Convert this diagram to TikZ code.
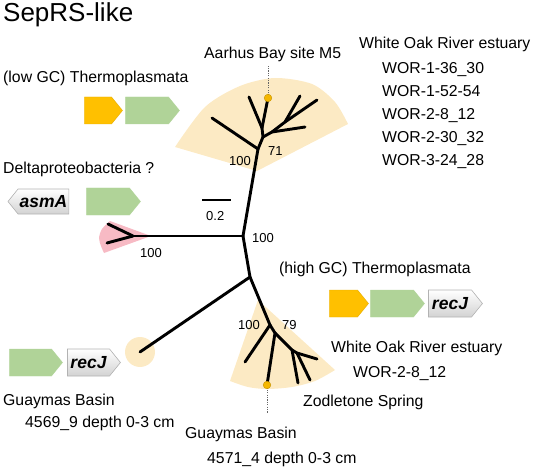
\documentclass[tikz,border=0pt]{standalone}
\usepackage{fontspec}
\setmainfont{Liberation Sans}
\usetikzlibrary{shapes.symbols}

\definecolor{fanbeige}{RGB}{252,234,196}
\definecolor{fanpink}{RGB}{247,186,196}
\definecolor{geneorange}{RGB}{255,192,0}
\definecolor{genegreen}{RGB}{176,211,152}
\definecolor{dotorange}{RGB}{245,183,0}

\begin{document}
\begin{tikzpicture}[x=1pt,y=-1pt,
  branch/.style={line width=2.9pt, line cap=round},
  lbl/.style={anchor=base west, inner sep=0pt, font=\fontsize{15.8}{18}\selectfont},
  boot/.style={anchor=base west, inner sep=0pt, font=\fontsize{13}{15}\selectfont},
  gene/.style={signal, signal to=east, signal from=nowhere, signal pointer angle=102,
    minimum height=27, inner sep=0pt, font=\fontsize{17.5}{20}\selectfont\bfseries\itshape},
  orangegene/.style={gene, fill=geneorange, draw=geneorange!90!black, line width=0.4pt},
  greengene/.style={gene, fill=genegreen, draw=genegreen, line width=0.4pt},
  greygene/.style={gene, top color=white, bottom color=gray!35, draw=gray!60, line width=0.6pt},
  tipdot/.style={fill=dotorange, draw=dotorange!80!black, line width=0.4pt},
  guide/.style={gray!80!black, line width=0.6pt, dash pattern=on 1.2pt off 1.2pt}]
\useasboundingbox (0,0) rectangle (533,468);

% clade shading
\fill[fanbeige] (257,171) -- plot[smooth] coordinates {(175,147) (205,107) (240,86) (275,78) (312,84) (335,102) (348,124)} -- cycle;
\fill[fanbeige] (258,300) -- plot[smooth] coordinates {(230,381) (248,387) (267,389) (292,387) (315,381) (335,370)} -- cycle;
\fill[fanpink] (151,236) -- plot[smooth] coordinates {(110,221) (102,229) (99,238) (101,246) (104,253)} -- cycle;
\fill[fanbeige] (140,352) circle (15);

% tree points
\coordinate (R) at (243,236);
\coordinate (B) at (258,149);
\coordinate (Bl) at (212,118);
\coordinate (C) at (263,137);
\coordinate (Cu) at (262,128);
\coordinate (Cl) at (249,97);
\coordinate (M5) at (268,98);
\coordinate (D) at (272,132);
\coordinate (Dl) at (305,127);
\coordinate (E) at (285,122);
\coordinate (El) at (300,96);
\coordinate (Er) at (317,100);
\coordinate (P) at (133,236);
\coordinate (Pu) at (108,224);
\coordinate (Pd) at (107,243);
\coordinate (F) at (250,277);
\coordinate (GB) at (140,352);
\coordinate (G) at (270,325);
\coordinate (Gl) at (245,362);
\coordinate (H) at (275,333);
\coordinate (GB2) at (267,385);
\coordinate (I) at (292,350);
\coordinate (I2) at (297,353);
\coordinate (Il) at (298,383);
\coordinate (Im) at (310,380);
\coordinate (Ir) at (317,359);
\coordinate (M5top) at (268,66);
\coordinate (GB2bot) at (267,413);

\draw[guide] (M5) -- (M5top);
\draw[guide] (GB2) -- (GB2bot);

\draw[branch] (R) -- (B);
\draw[branch] (B) -- (Bl);
\draw[branch] (B) -- (C) -- (Cu);
\draw[branch] (Cu) -- (Cl);
\draw[branch] (Cu) -- (M5);
\draw[branch] (C) -- (D) -- (Dl);
\draw[branch] (D) -- (E) -- (El);
\draw[branch] (E) -- (Er);
\draw[branch] (R) -- (P);
\draw[branch] (P) -- (Pu);
\draw[branch] (P) -- (Pd);
\draw[branch] (R) -- (F) -- (GB);
\draw[branch] (F) -- (G) -- (Gl);
\draw[branch] (G) -- (H) -- (GB2);
\draw[branch] (H) -- (I) -- (Il);
\draw[branch] (I) -- (I2) -- (Ir);
\draw[branch] (I2) -- (Im);

\filldraw[tipdot] (M5) circle (3.8);
\filldraw[tipdot] (GB2) circle (3.8);

% scale bar
\coordinate (S1) at (202,200);
\coordinate (S2) at (231,200);
\draw[line width=2.4pt] (S1) -- (S2);
\node[boot] (scale) at (206,220) {0.2};

% bootstrap values
\node[boot] (bR) at (252,242) {100};
\node[boot] (bB) at (229,165) {100};
\node[boot] (bC) at (268,156) {71};
\node[boot] (bP) at (140,257) {100};
\node[boot] (bG) at (238,329) {100};
\node[boot] (bH) at (282,329) {79};

% labels
\node[anchor=base west, inner sep=0pt, font=\fontsize{26}{30}\selectfont] (title) at (3,22) {SepRS-like};
\node[lbl] (aarhus) at (204,59) {Aarhus Bay site M5};
\node[lbl] (wor) at (359,49) {White Oak River estuary};
\node[lbl] (wor1) at (382,74) {WOR-1-36\_30};
\node[lbl] (wor2) at (382,97) {WOR-1-52-54};
\node[lbl] (wor3) at (382,120) {WOR-2-8\_12};
\node[lbl] (wor4) at (382,143) {WOR-2-30\_32};
\node[lbl] (wor5) at (382,166) {WOR-3-24\_28};
\node[lbl] (lowgc) at (3,83) {(low GC) Thermoplasmata};
\node[lbl] (delta) at (3,174) {Deltaproteobacteria ?};
\node[lbl] (highgc) at (279,273) {(high GC) Thermoplasmata};
\node[lbl] (worb) at (331,352) {White Oak River estuary};
\node[lbl] (worb1) at (353,377) {WOR-2-8\_12};
\node[lbl] (zod) at (303,406) {Zodletone Spring};
\node[lbl] (guay) at (3,405) {Guaymas Basin};
\node[lbl] (guay1) at (25,427) {4569\_9 depth 0-3 cm};
\node[lbl] (guayb) at (185,438) {Guaymas Basin};
\node[lbl] (guayb1) at (207,463) {4571\_4 depth 0-3 cm};

% gene neighbourhoods
\node[orangegene, minimum width=38] (lowSep) at (98,110.5) {};
\node[greengene, minimum width=54] (lowNb) at (147,110.5) {};
\node[greygene, signal to=west, minimum width=61, minimum height=25] (asmA) at (43.5,201.5) {asmA};
\node[greengene, minimum width=54] (deltaNb) at (108,201.5) {};
\node[orangegene, minimum width=39] (highSep) at (343.5,303.5) {};
\node[greengene, minimum width=54] (highNb) at (392,303.5) {};
\node[greygene, minimum width=54] (highRecJ) at (450,303.5) {recJ};
\node[greengene, minimum width=53] (guayNb) at (30.5,362.5) {};
\node[greygene, minimum width=53] (guayRecJ) at (88.5,362.5) {recJ};
\end{tikzpicture}
\end{document}
